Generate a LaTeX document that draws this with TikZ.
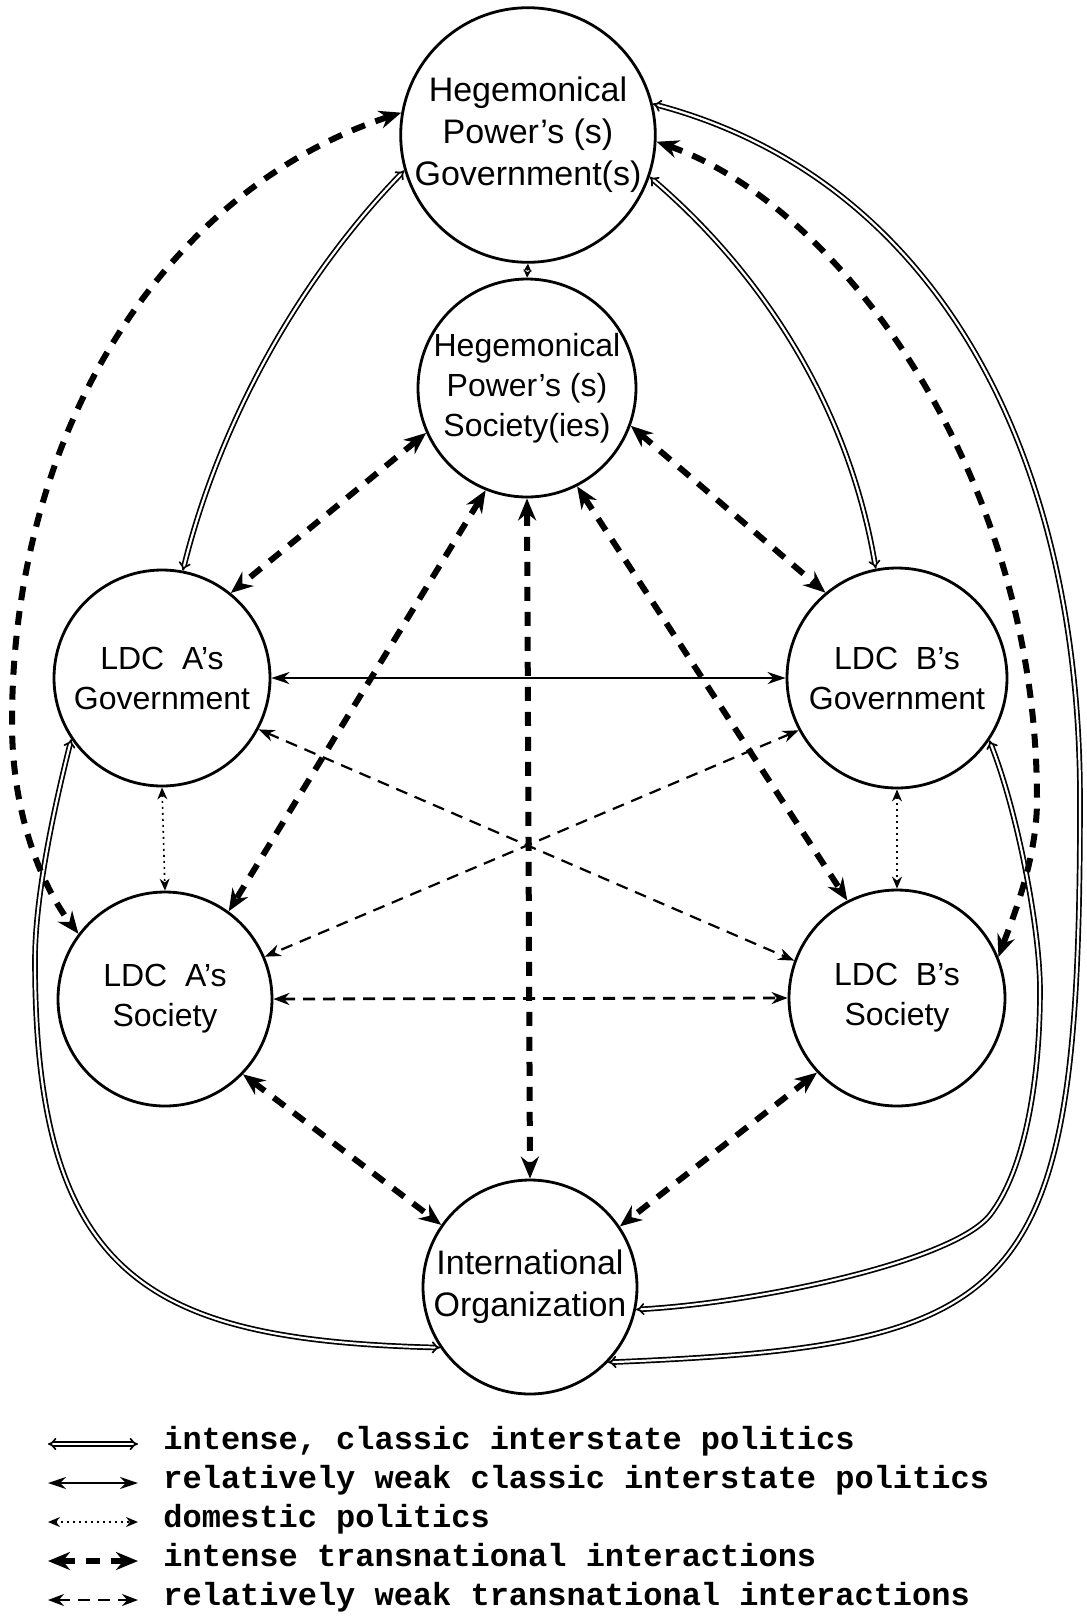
\documentclass[tikz,border=0pt]{standalone}
\usepackage{fontspec}
\setmainfont{Liberation Sans}
\newfontfamily\legendfont{Liberation Mono}
\usetikzlibrary{arrows.meta}
\begin{document}
\begin{tikzpicture}[x=0.5pt,y=-0.5pt,
  entity/.style={circle, draw, line width=1.4pt, inner sep=0pt, align=center,
    font=\fontsize{16}{20}\selectfont},
  bigentity/.style={entity, font=\fontsize{17}{21}\selectfont},
  intcl/.style={double, line width=0.85pt, double distance=1.1pt, {Implies[scale=1.3]}-{Implies[scale=1.3]}},
  weakcl/.style={line width=1.2pt, {Stealth[length=9pt,width=6pt]}-{Stealth[length=9pt,width=6pt]}},
  dom/.style={line width=0.8pt, dash pattern=on 1pt off 2pt, {Stealth[length=6pt,width=5pt]}-{Stealth[length=6pt,width=5pt]}},
  inttr/.style={line width=3pt, dash pattern=on 7pt off 5.5pt, {Stealth[length=11pt,width=9pt]}-{Stealth[length=11pt,width=9pt]}},
  weaktr/.style={line width=1.1pt, dash pattern=on 6pt off 4pt, {Stealth[length=8pt,width=6pt]}-{Stealth[length=8pt,width=6pt]}},
  legtext/.style={anchor=mid west, inner sep=0pt, font=\legendfont\bfseries\fontsize{16}{18}\selectfont}
]
\path[use as bounding box, fill=white] (0,0) rectangle (1087,1619);

% entities
\node[bigentity, minimum size=121pt] (HG) at (528,135) {Hegemonical\\Power's (s)\\Government(s)};
\node[entity, minimum size=109pt] (HS) at (527,388) {Hegemonical\\Power's (s)\\Society(ies)};
\node[entity, minimum size=108pt] (AG) at (162,678) {LDC\ \ A's\\Government};
\node[entity, minimum size=110pt] (BG) at (897,678) {LDC\ \ B's\\Government};
\node[entity, minimum size=107pt] (AS) at (165,999) {LDC\ \ A's\\Society};
\node[entity, minimum size=108pt] (BS) at (897,998) {LDC\ \ B's\\Society};
\node[bigentity, minimum size=107pt] (IO) at (530,1287) {International\\Organization};

% domestic politics
\draw[line width=0.8pt, dash pattern=on 1pt off 2pt, {Stealth[length=4pt,width=4pt]}-{Stealth[length=4pt,width=4pt]}] (HG.-90) -- (HS.90);
\draw[dom] (AG.-90) -- (AS.90 |- AS.90);
\draw[dom] (BG.-90) -- (BS.90);

% classic interstate politics
\draw[weakcl] (AG.0) -- (BG.180);
\draw[intcl] (HG.196) .. controls (300,278) and (220,421) .. (AG.79);
\draw[intcl] (HG.-19) .. controls (770,280) and (850,415) .. (BG.101);
\draw[intcl] (HG.14) .. controls (935,179) and (1080,450) .. (1080,800)
   .. controls (1080,1300) and (1027,1345) .. (IO.-44);
\draw[intcl] (BG.-34) .. controls (1018,813) and (1040,930) .. (1040,990)
   .. controls (1040,1080) and (1025,1170) .. (990,1215)
   .. controls (953,1262) and (755,1303) .. (IO.-12);
\draw[intcl] (AG.214) .. controls (52,816) and (35,900) .. (35,960)
   .. controls (35,1280) and (150,1340) .. (IO.214);

% intense transnational interactions
\draw[inttr] (HG.170) .. controls (170,188) and (12,423) .. (12,723)
   .. controls (12,823) and (47,893) .. (AS.143);
\draw[inttr] (HG.-3) .. controls (838,205) and (1037,470) .. (1037,800)
   .. controls (1037,860) and (1012,920) .. (BS.22);
\draw[inttr] (HS.204) -- (AG.51);
\draw[inttr] (HS.-20) -- (BG.130);
\draw[inttr] (HS.248) -- (AS.54);
\draw[inttr] (HS.297) -- (BS.117);
\draw[inttr] (HS.-90) -- (IO.90);
\draw[inttr] (AS.-44) -- (IO.145);
\draw[inttr] (BS.223) -- (IO.34);

% weak transnational interactions
\draw[weaktr] (AG.-28) -- (BS.160);
\draw[weaktr] (BG.208) -- (AS.23);
\draw[weaktr, line width=1.4pt] (AS.0) -- (BS.180);

% legend
\coordinate (l1a) at (48,1444); \coordinate (l1b) at (138,1444);
\coordinate (l2a) at (48,1483); \coordinate (l2b) at (138,1483);
\coordinate (l3a) at (48,1522); \coordinate (l3b) at (138,1522);
\coordinate (l4a) at (48,1561); \coordinate (l4b) at (138,1561);
\coordinate (l5a) at (48,1600); \coordinate (l5b) at (138,1600);
\draw[intcl] (l1a) -- (l1b);
\draw[weakcl] (l2a) -- (l2b);
\draw[dom] (l3a) -- (l3b);
\draw[inttr] (l4a) -- (l4b);
\draw[weaktr] (l5a) -- (l5b);
\node[legtext] (t1) at (163,1444) {intense, classic interstate politics};
\node[legtext] (t2) at (163,1483) {relatively weak classic interstate politics};
\node[legtext] (t3) at (163,1522) {domestic politics};
\node[legtext] (t4) at (163,1561) {intense transnational interactions};
\node[legtext] (t5) at (163,1600) {relatively weak transnational interactions};
\end{tikzpicture}
\end{document}
